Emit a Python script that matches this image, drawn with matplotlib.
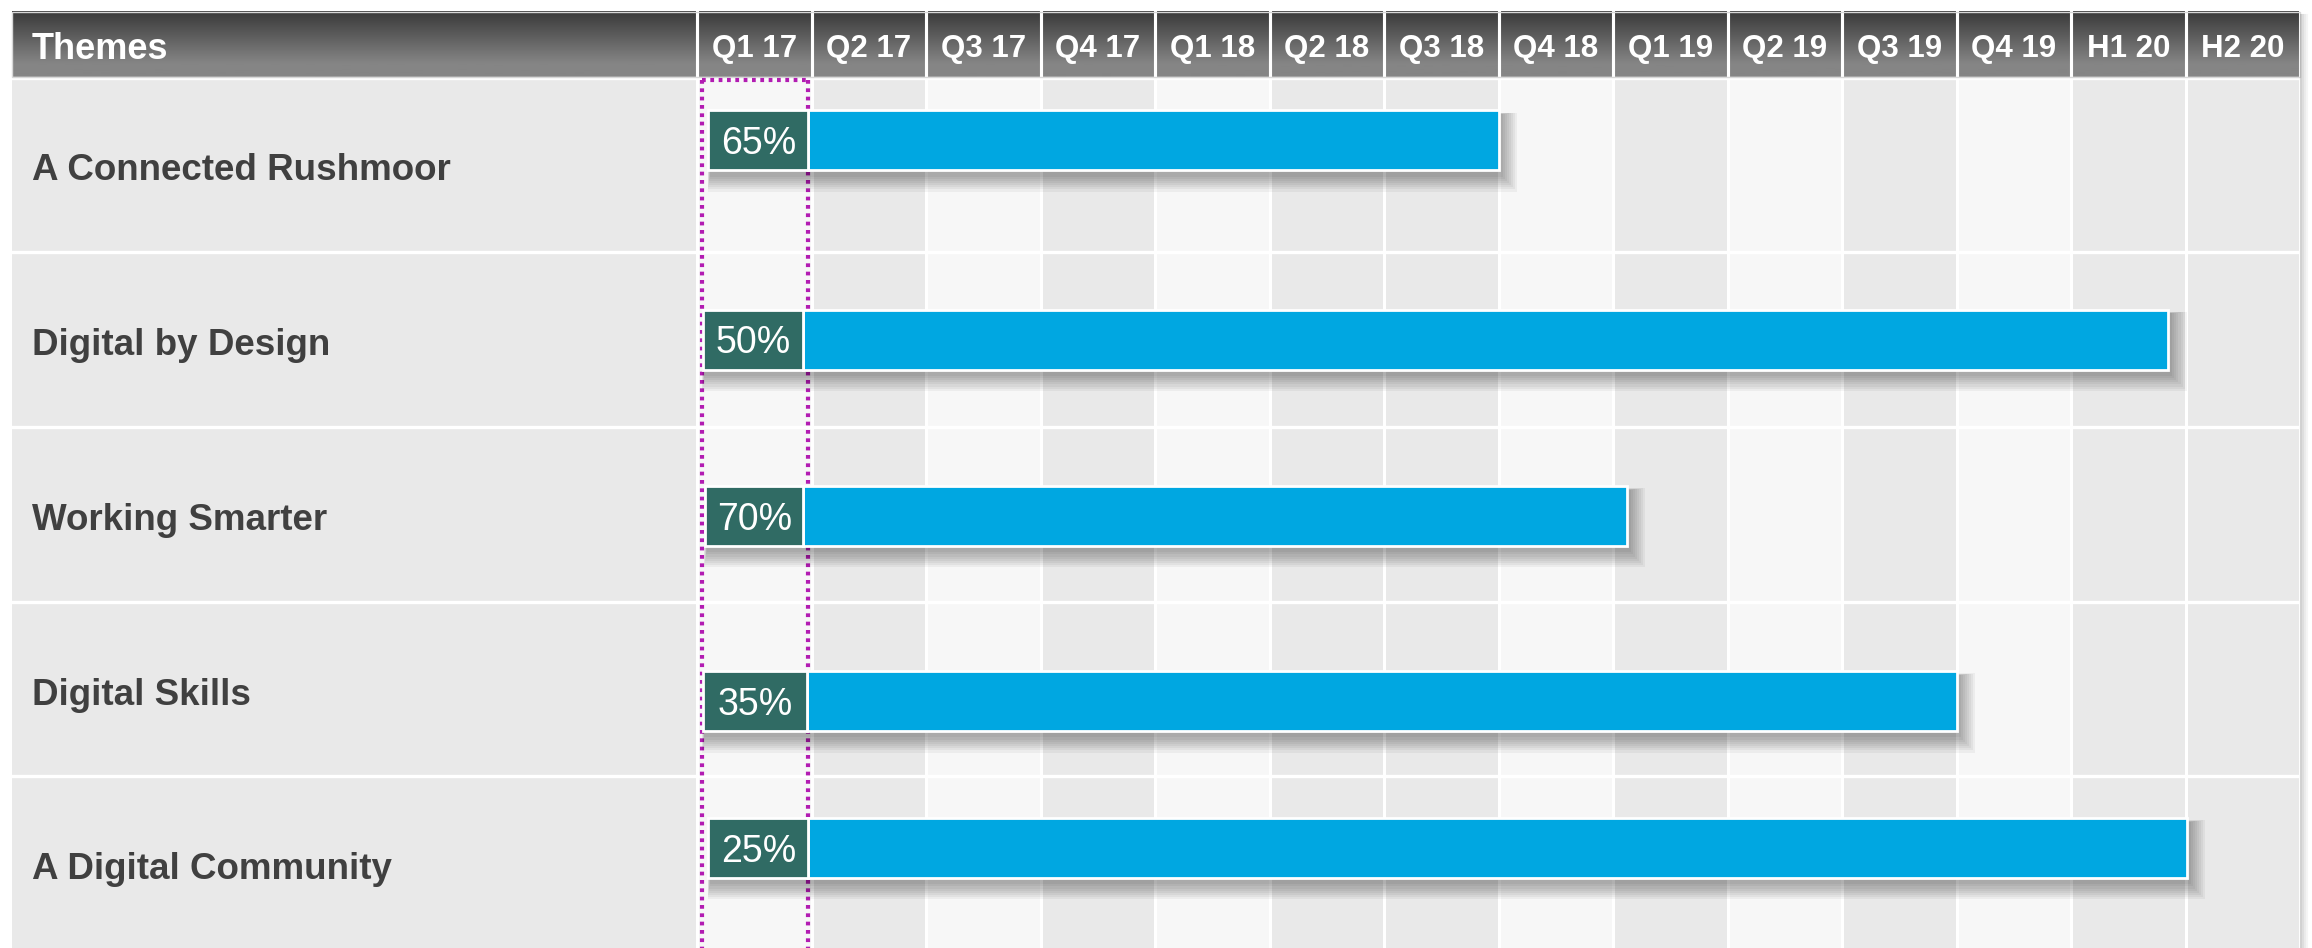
import numpy as np
import matplotlib
matplotlib.use("Agg")
import matplotlib.pyplot as plt
from matplotlib.patches import Rectangle

# data
themes = ["A Connected Rushmoor", "Digital by Design", "Working Smarter",
          "Digital Skills", "A Digital Community"]
periods = ["Q1 17", "Q2 17", "Q3 17", "Q4 17", "Q1 18", "Q2 18", "Q3 18",
           "Q4 18", "Q1 19", "Q2 19", "Q3 19", "Q4 19", "H1 20", "H2 20"]
progress = [65, 50, 70, 35, 25]
box_start = [0.10, 0.05, 0.07, 0.05, 0.10]    # in period units
box_end = [0.97, 0.93, 0.93, 0.96, 0.97]
bar_end = [7.0, 12.85, 8.12, 11.0, 13.01]
bar_row = [0.36, 1.50, 2.51, 3.57, 4.41]       # bar centre, in row units

# styling
col_shade = ["L", "G", "L", "G", "L", "G", "G", "L", "G", "L", "G", "L", "G", "G"]
LIGHT, GRAY = "#f7f7f7", "#e9e9e9"
BAR = "#00a7e1"
BOX = "#306b64"
DOT = "#b21cb2"
TXT = "#404040"
FONT = ["Liberation Sans", "DejaVu Sans"]

W, H = 2312, 948
col_px, row_px = 114.5, 174.75
x_px0, y_px0 = 697, 77.5          # pixel of period 0 / row 0
n_col, n_row = len(periods), len(themes)

fig = plt.figure(figsize=(W / 100, H / 100), dpi=100)
ax = fig.add_axes([0, 0, 1, 1])
ax.set_xlim(-x_px0 / col_px, (W - x_px0) / col_px)
ax.set_ylim((H - y_px0) / row_px, -y_px0 / row_px)
ax.axis("off")

theme_left = -(x_px0 - 12) / col_px
hdr_top = -(y_px0 - 12) / row_px
body_bot = (H - y_px0) / row_px

# body background
ax.add_patch(Rectangle((theme_left, 0), -theme_left, body_bot, fc=GRAY, ec="none", zorder=0))
for i in range(n_col):
    c = LIGHT if col_shade[i] == "L" else GRAY
    ax.add_patch(Rectangle((i, 0), 1, body_bot, fc=c, ec="none", zorder=0))

# white grid
for i in range(n_col + 1):
    ax.plot([i, i], [hdr_top, body_bot], color="white", lw=2.2, zorder=1)
for r in range(n_row):
    ax.plot([theme_left, n_col], [r, r], color="white", lw=2.4, zorder=1)

# header gradient
grad = np.linspace(0, 1, 64).reshape(-1, 1)
grad = np.clip(grad * 1.25, 0, 1)
cmap = matplotlib.colors.LinearSegmentedColormap.from_list("hdr", ["#3a3a3a", "#858585"])
ax.imshow(grad, cmap=cmap, aspect="auto", origin="upper",
          extent=(theme_left, n_col, 0, hdr_top), zorder=0.5)
for i in range(0, n_col):
    ax.plot([i, i], [hdr_top, 0], color="white", lw=2.2, zorder=1)
ax.add_patch(Rectangle((theme_left, hdr_top), n_col - theme_left, -hdr_top,
                       fc="none", ec="#d8d8d8", lw=1, zorder=1))

hdr_mid = hdr_top / 2 + 0.025
ax.text(theme_left + 20 / col_px, hdr_mid, "Themes", color="white", fontsize=26,
        fontweight="bold", family=FONT, va="center", ha="left", zorder=3)
for i, p in enumerate(periods):
    ax.text(i + 0.5, hdr_mid, p, color="white", fontsize=22.5, fontweight="bold",
            family=FONT, va="center", ha="center", zorder=3)

# right edge shadow
for k, a in enumerate([0.35, 0.25, 0.15, 0.08]):
    x = n_col + (1 + 2 * k) / col_px
    ax.plot([x, x], [hdr_top + 0.02, body_bot], color="#808080", alpha=a, lw=1.5, zorder=1)

# theme labels
for r, t in enumerate(themes):
    ax.text(theme_left + 20 / col_px, r + 0.535, t, color=TXT, fontsize=26.5,
            fontweight="bold", family=FONT, va="center", ha="left", zorder=3)

# current period marker (dotted)
dl, dr = 0.045, 0.97
dots = (0, (0.9, 1.1))
ax.plot([dl, dr], [0.012, 0.012], color=DOT, lw=3, ls=dots, zorder=2)
ax.plot([dl, dl], [0.012, body_bot], color=DOT, lw=3, ls=dots, zorder=2)
ax.plot([dr, dr], [0.012, body_bot], color=DOT, lw=3, ls=dots, zorder=2)

# bars
bh = 0.343
for r in range(n_row):
    y0 = bar_row[r] - bh / 2
    x0 = box_start[r]
    # soft drop shadow
    for k in range(8):
        g = (k + 1) * 1.2
        ax.add_patch(Rectangle((x0 + (2 - g * 0.3) / col_px, y0 + (4 - g * 0.2) / row_px),
                               bar_end[r] - x0 + (2 * g) / col_px, bh + (2 * g) / row_px,
                               fc="#000000", ec="none", alpha=0.045, zorder=3))
    ax.add_patch(Rectangle((box_end[r], y0), bar_end[r] - box_end[r], bh,
                           fc=BAR, ec="white", lw=2, zorder=4))
    ax.add_patch(Rectangle((x0, y0), box_end[r] - x0, bh,
                           fc=BOX, ec="white", lw=2, zorder=5))
    ax.text((x0 + box_end[r]) / 2, bar_row[r] + 0.02, f"{progress[r]}%", color="white",
            fontsize=27, family=FONT, va="center", ha="center", zorder=6)

fig.savefig("out.png", dpi=100, facecolor="white")
